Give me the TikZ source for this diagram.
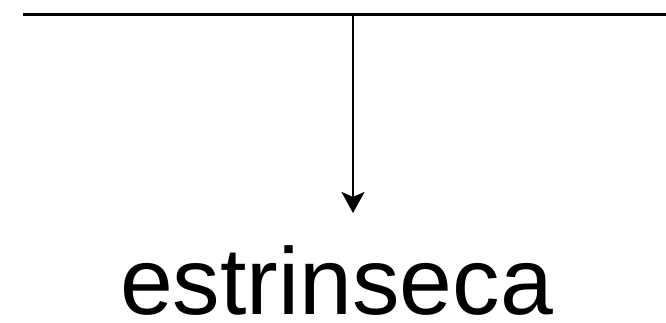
\documentclass[tikz,border=0pt]{standalone}
\usepackage{fontspec}
\setmainfont{Liberation Sans}
\usetikzlibrary{arrows.meta}
\begin{document}
\begin{tikzpicture}
    [
    x=1pt,y=-1pt,
    bar/.style={line width=3.4pt},
    link/.style={line width=2.6pt,-{Stealth[length=21pt,width=23pt,inset=5pt]}},
    word/.style={inner sep=0pt,anchor=base,font=\fontsize{95}{100}\selectfont}
    ]
    \useasboundingbox (0,0) rectangle (666,323);
    \coordinate (left) at (23,14.5);
    \coordinate (right) at (666,14.5);
    \coordinate (top) at (353,14.5);
    \coordinate (tip) at (353,213);
    \node (estrinseca) at (336.5,314) [word] {estrinseca};
    \draw [bar] (left) to (right);
    \draw [link] (top) to (tip);
  \end{tikzpicture}
\end{document}
